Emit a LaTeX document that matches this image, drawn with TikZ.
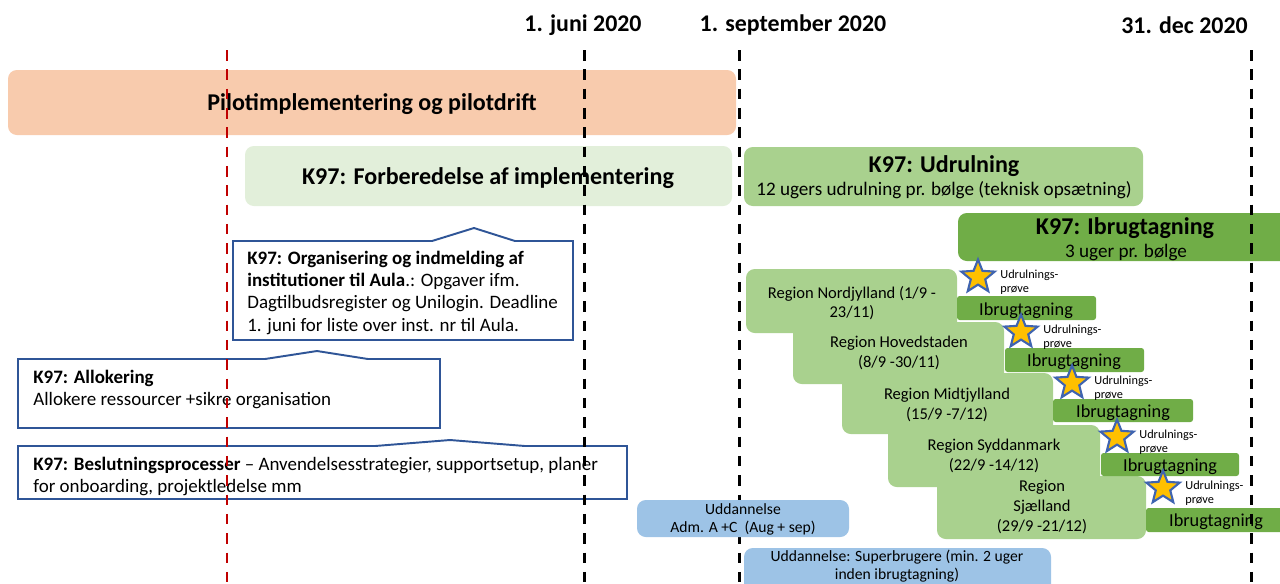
\documentclass[tikz,border=0pt]{standalone}
\usepackage{fontspec}
\setmainfont{Carlito}
\usepackage{tikz}
\usetikzlibrary{shapes.geometric}

\definecolor{pilotorange}{HTML}{F8CBAD}
\definecolor{prepgreen}{HTML}{E2EFDA}
\definecolor{rollgreen}{HTML}{A9D18E}
\definecolor{usegreen}{HTML}{70AD47}
\definecolor{edublue}{HTML}{9DC3E6}
\definecolor{calloutblue}{HTML}{2F5597}
\definecolor{starblue}{HTML}{3F64B0}
\definecolor{starfill}{HTML}{FFC000}
\definecolor{deadred}{HTML}{C00000}

\tikzset{
  timeline/.style={line width=1.7pt, dash pattern=on 6pt off 5pt},
  datelabel/.style={font=\fontsize{13.6}{15}\selectfont\bfseries},
  bar/.style={rounded corners=5pt},
  smallbar/.style={rounded corners=1.5pt},
  bigtitle/.style={font=\fontsize{13.7}{15}\selectfont\bfseries},
  subtitle/.style={font=\fontsize{10.9}{12}\selectfont},
  callout/.style={draw=calloutblue, line width=1.1pt, fill=white},
  callouttext/.style={anchor=north west, align=left, inner sep=0pt, font=\fontsize{10.8}{12.6}\selectfont},
  regiontext/.style={align=center, inner sep=0pt, font=\fontsize{9.4}{11.2}\selectfont},
  usetext/.style={inner sep=0pt, font=\fontsize{10.4}{11}\selectfont},
  edutext/.style={align=center, inner sep=0pt, font=\fontsize{8.9}{10.2}\selectfont},
  udstar/.style={star, star points=5, star point ratio=2.3, minimum size=0.7cm, inner sep=0pt,
    fill=starfill, draw=starblue, line width=1.2pt},
  startext/.style={anchor=west, align=left, inner sep=0pt, font=\fontsize{7}{8.3}\selectfont},
}

\begin{document}
\begin{tikzpicture}[x=0.02cm, y=-0.02cm]
\useasboundingbox (0,0) rectangle (1280,583);

% Dates on top
\node[datelabel] (juni) at (583,25) {1. juni 2020};
\node[datelabel] (september) at (793,25) {1. september 2020};
\node[datelabel, anchor=east] (december) at (1254,25) {31. dec 2020};

% Pilot and preparation phase
\fill[bar, pilotorange] (8,70) rectangle (736,135);
\node[bigtitle] (pilot) at (372,104) {Pilotimplementering og pilotdrift};
\fill[bar, prepgreen] (245,146) rectangle (732,206);
\node[bigtitle] (prep) at (488,178) {K97: Forberedelse af implementering};

% Rollout and taking into use
\fill[bar, rollgreen] (744,147) rectangle (1143,206);
\node[bigtitle] (rollout) at (944,166) {K97: Udrulning};
\node[subtitle] (rolloutsub) at (944,190) {12 ugers udrulning pr. bølge (teknisk opsætning)};
\fill[bar, usegreen] (958,213) rectangle (1295,261);
\node[bigtitle] (intouse) at (1125,228) {K97: Ibrugtagning};
\node[subtitle] (intousesub) at (1126,252) {3 uger pr. bølge};

% Callouts on the left
\draw[callout] (233,241) -- (432,241) -- (474,228) -- (515,241) -- (573,241) -- (573,340) -- (233,340) -- cycle;
\node[callouttext] (organise) at (247,251) {\textbf{K97: Organisering og indmelding af}\\
  \textbf{institutioner til Aula}.: Opgaver ifm.\\
  Dagtilbudsregister og Unilogin. Deadline\\
  1. juni for liste over inst. nr til Aula.};

\draw[callout] (18,359) -- (265,359) -- (317,351) -- (368,359) -- (440,359) -- (440,428) -- (18,428) -- cycle;
\node[callouttext] (allocate) at (33,370) {\textbf{K97: Allokering}\\
  Allokere ressourcer +sikre organisation};

\draw[callout] (18,446) -- (375,446) -- (450,440) -- (525,446) -- (627,446) -- (627,499) -- (18,499) -- cycle;
\node[callouttext] (decide) at (33,457) {\textbf{K97: Beslutningsprocesser} -- Anvendelsesstrategier, supportsetup, planer\\
  for onboarding, projektledelse mm};

% Regions, one wave each
\fill[bar, rollgreen] (746,269) rectangle (957,333);
\node[regiontext] (nord) at (852,303) {Region Nordjylland (1/9 -\\23/11)};
\fill[bar, rollgreen] (793,322) rectangle (1004,384);
\node[regiontext] (hoved) at (899,353) {Region Hovedstaden\\(8/9 -30/11)};
\fill[bar, rollgreen] (842,373) rectangle (1053,434);
\node[regiontext] (midt) at (947,405) {Region Midtjylland\\(15/9 -7/12)};
\fill[bar, rollgreen] (888,425) rectangle (1100,487);
\node[regiontext] (syd) at (994,456) {Region Syddanmark\\(22/9 -14/12)};
\fill[bar, rollgreen] (937,476) rectangle (1146,539);
\node[regiontext] (sjael) at (1042,507) {Region\\Sjælland\\(29/9 -21/12)};

\fill[smallbar, usegreen] (957,296) rectangle (1096,320);
\node[usetext] (use1) at (1026,311) {Ibrugtagning};
\fill[smallbar, usegreen] (1005,348) rectangle (1144,372);
\node[usetext] (use2) at (1074,362) {Ibrugtagning};
\fill[smallbar, usegreen] (1053,399) rectangle (1193,422);
\node[usetext] (use3) at (1123,413) {Ibrugtagning};
\fill[smallbar, usegreen] (1101,453) rectangle (1239,476);
\node[usetext] (use4) at (1170,467) {Ibrugtagning};
\fill[smallbar, usegreen] (1146,508) rectangle (1295,532);
\node[usetext] (use5) at (1216,522) {Ibrugtagning};

% Test stars
\node[udstar] (star1) at (978,277) {};
\node[startext] at (1000,282) {Udrulnings-\\prøve};
\node[udstar] (star2) at (1021,332) {};
\node[startext] at (1043,337) {Udrulnings-\\prøve};
\node[udstar] (star3) at (1072,383) {};
\node[startext] at (1094,388) {Udrulnings-\\prøve};
\node[udstar] (star4) at (1117,437) {};
\node[startext] at (1139,442) {Udrulnings-\\prøve};
\node[udstar] (star5) at (1163,488) {};
\node[startext] at (1185,493) {Udrulnings-\\prøve};

% Deadlines, dashed
\draw[timeline, deadred] (227,50) -- (227,583);
\draw[timeline] (584,50) -- (584,583);
\draw[timeline] (739,50) -- (739,583);
\draw[timeline] (1251,50) -- (1251,583);

% Training
\fill[bar, edublue] (637,500) rectangle (849,537);
\node[edutext] (eduadm) at (743,519) {Uddannelse\\Adm. A +C\ \ (Aug + sep)};
\fill[bar, edublue] (744,548) rectangle (1051,598);
\node[edutext] (edusuper) at (897,566) {Uddannelse: Superbrugere (min. 2 uger\\inden ibrugtagning)};
\end{tikzpicture}
\end{document}
